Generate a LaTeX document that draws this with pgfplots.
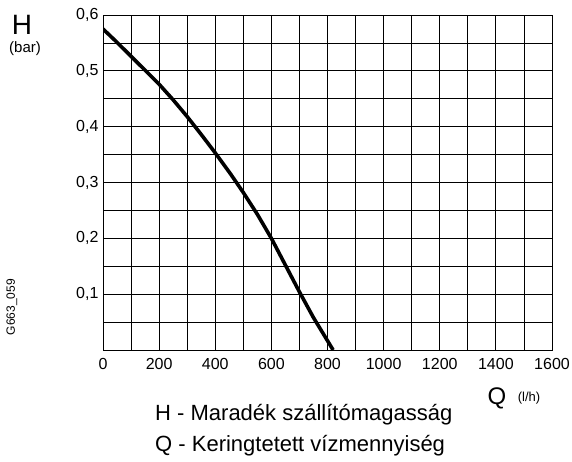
\documentclass[border=0pt]{standalone}
\usepackage{fontspec}
\setmainfont{Liberation Sans}
\usepackage{pgfplots}
\pgfplotsset{compat=1.18}
\begin{document}
\begin{tikzpicture}
\useasboundingbox (0pt,0pt) rectangle (572pt,-461pt);
\begin{axis}[
  at={(103pt,-15pt)}, anchor=north west,
  scale only axis, width=449pt, height=335pt,
  xmin=0, xmax=1600, ymin=0, ymax=0.6,
  xtick={0,200,400,600,800,1000,1200,1400,1600},
  xticklabels={0,200,400,600,800,1000,1200,1400,1600},
  minor xtick={100,300,500,700,900,1100,1300,1500},
  ytick={0.1,0.2,0.3,0.4,0.5,0.6},
  yticklabels={{0,1},{0,2},{0,3},{0,4},{0,5},{0,6}},
  minor ytick={0.05,0.15,0.25,0.35,0.45,0.55},
  grid=both,
  major grid style={black, line width=0.8pt},
  minor grid style={black, line width=0.8pt},
  axis line style={black, line width=0.9pt},
  major tick length=0pt, minor tick length=0pt,
  tick label style={font=\fontsize{16}{18}\selectfont, black},
  xticklabel style={yshift=-5pt},
  yticklabel style={xshift=-1pt},
  clip=true,
]
\addplot[black, line width=3.6pt, line join=round] coordinates {
(0,0.575) (50,0.551) (100,0.526) (150,0.501) (200,0.476) (250,0.448) (300,0.418)
(350,0.386) (400,0.353) (455,0.315) (500,0.282) (550,0.243) (600,0.200)
(650,0.152) (700,0.104) (750,0.058) (785,0.029) (820,0.0)
};
\end{axis}
\node[font=\fontsize{28}{30}\selectfont] at (22pt,-25pt) {H};
\node[font=\fontsize{15}{17}\selectfont] at (25pt,-49pt) {(bar)};
\node[font=\fontsize{24}{26}\selectfont] at (497pt,-398pt) {Q};
\node[font=\fontsize{13}{15}\selectfont] at (529pt,-398pt) {(l/h)};
\node[font=\fontsize{22}{24}\selectfont, anchor=west, inner sep=0pt] at (155pt,-415pt) {H - Maradék szállítómagasság};
\node[font=\fontsize{22}{24}\selectfont, anchor=west, inner sep=0pt] at (155pt,-446pt) {Q - Keringtetett vízmennyiség};
\node[font=\fontsize{12}{14}\selectfont, rotate=90] at (12pt,-307pt) {G663\_059};
\end{tikzpicture}
\end{document}
